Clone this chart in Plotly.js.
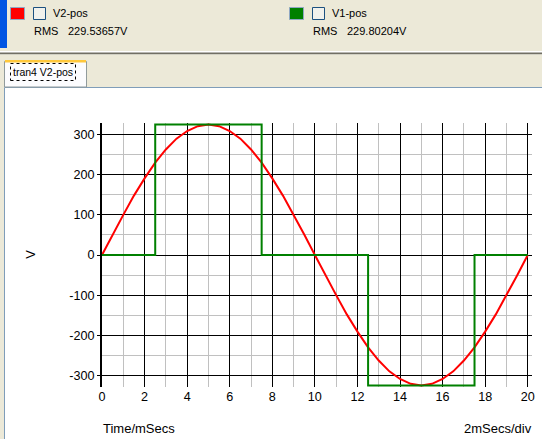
<!DOCTYPE html>
<html>
<head>
<meta charset="utf-8">
<script src="https://cdn.plot.ly/plotly-3.0.1.min.js"></script>
<style>html,body{margin:0;padding:0;background:#fff;}#chart{width:542px;height:439px;}</style>
</head>
<body>
<div id="chart"></div>
<script>
// ---- data ----
const timeMs = [0,0.5,1,1.5,2,2.5,3,3.5,4,4.5,5,5.5,6,6.5,7,7.5,8,8.5,9,9.5,10,10.5,11,11.5,12,12.5,13,13.5,14,14.5,15,15.5,16,16.5,17,17.5,18,18.5,19,19.5,20];
const v2pos = [0,51,100,148,191,230,263,290,309,321,325,321,309,290,263,230,191,148,100,51,0,-51,-100,-148,-191,-230,-263,-290,-309,-321,-325,-321,-309,-290,-263,-230,-191,-148,-100,-51,0];
const v1Time = [0,2.5,2.5,7.5,7.5,12.5,12.5,17.5,17.5,20];
const v1pos  = [0,0,325,325,0,0,-325,-325,0,0];
const seriesNames = ['V2-pos','V1-pos'];
const rmsValues = ['229.53657V','229.80204V'];
const xTickVals = [0,2,4,6,8,10,12,14,16,18,20];
const xTickText = ['0','2','4','6','8','10','12','14','16','18','20'];
const yTickVals = [-300,-200,-100,0,100,200,300];
const yTickText = ['-300','-200','-100','0','100','200','300'];
const tabLabel = 'tran4 V2-pos';
const xLabel = 'Time/mSecs';
const xScaleLabel = '2mSecs/div';
const yLabel = 'V';

// ---- layout helpers (pixel -> paper) ----
const L = 102, R = 532, T = 123, B = 387;
const px = x => (x - L) / (R - L);
const py = y => (B - y) / (B - T);
const FONT = '"Liberation Sans", Arial, sans-serif';

function rect(x0, y0, x1, y1, fill, lineColor, lw, dash) {
  return {type:'rect', xref:'paper', yref:'paper', layer:'above',
    x0:px(x0), x1:px(x1), y0:py(y1), y1:py(y0),
    fillcolor: fill || 'rgba(0,0,0,0)',
    line: lineColor ? {color:lineColor, width:lw||1, dash:dash||'solid'} : {width:0}};
}
function line(x0, y0, x1, y1, color, lw) {
  return {type:'line', xref:'paper', yref:'paper', layer:'above',
    x0:px(x0), x1:px(x1), y0:py(y0), y1:py(y1), line:{color:color, width:lw||1}};
}
function text(x, y, t, size, anchor, angle) {
  return {xref:'paper', yref:'paper', x:px(x), y:py(y), text:t, showarrow:false,
    xanchor: anchor || 'left', yanchor:'middle', textangle: angle || 0,
    font:{family:FONT, size:size||11, color:'#000'}, borderpad:0};
}

const beige = '#ECE9D8';
const shapes = [
  rect(0, 0, 542, 51, beige),
  rect(0, 0, 7, 48, '#0054E3'),
  line(0, 51.5, 542, 51.5, '#FFFFFF', 1),
  rect(0, 52.5, 542, 54.5, '#716F64'),
  rect(0, 54.5, 542, 87, beige),
  rect(0, 87, 4, 439, beige),
  line(4.5, 87.5, 542, 87.5, '#7F9DB9', 1),
  line(4.5, 87.5, 4.5, 439, '#7F9DB9', 1),
  // tab
  rect(4.5, 61.5, 86.5, 87, '#FCFCFE', '#919B9C', 1),
  rect(5, 60, 86, 62.5, '#FFC83C'),
  rect(10.5, 63.5, 75.5, 80.5, null, '#000', 1, 'dot'),
  // legend swatches
  rect(10.5, 7.5, 24.5, 19.5, '#FF0000', '#8FA7C3', 1),
  rect(33.5, 7.5, 45.5, 19.5, '#F1F1EC', '#1C5180', 1),
  rect(289.5, 7.5, 303.5, 19.5, '#008000', '#8FA7C3', 1),
  rect(312.5, 7.5, 324.5, 19.5, '#F1F1EC', '#1C5180', 1)
];

const annotations = [
  text(52, 12.5, seriesNames[0], 11),
  text(33, 31, 'RMS', 11),
  text(67, 31, rmsValues[0], 11),
  text(331, 12.5, seriesNames[1], 11),
  text(312, 31, 'RMS', 11),
  text(346, 31, rmsValues[1], 11),
  text(12, 72, tabLabel, 10.5),
  text(102, 428, xLabel, 13),
  text(533, 428, xScaleLabel, 13, 'right'),
  text(31, 254.7, yLabel, 13, 'center', -90)
];

const traces = [
  {x: timeMs, y: v2pos, name: seriesNames[0], type:'scatter', mode:'lines',
   line:{color:'#FF0000', width:2}},
  {x: v1Time, y: v1pos, name: seriesNames[1], type:'scatter', mode:'lines',
   line:{color:'#008000', width:2}}
];

const layout = {
  width:542, height:439,
  margin:{l:L, r:542-R, t:T, b:439-B, pad:0},
  paper_bgcolor:'#FFFFFF', plot_bgcolor:'#FFFFFF',
  showlegend:false,
  font:{family:FONT, size:12.6, color:'#000'},
  xaxis:{range:[0,20.2], tickmode:'array', tickvals:xTickVals, ticktext:xTickText,
    showgrid:true, gridcolor:'#000', gridwidth:1, zeroline:false, showline:false,
    ticks:'', tickfont:{family:FONT, size:12.6, color:'#000'},
    minor:{tickmode:'linear', tick0:0, dtick:1, showgrid:true, gridcolor:'#C0C0C0', gridwidth:1, ticks:''},
    fixedrange:true},
  yaxis:{range:[-329,329], tickmode:'array', tickvals:yTickVals, ticktext:yTickText,
    showgrid:true, gridcolor:'#000', gridwidth:1, zeroline:false,
    showline:true, linecolor:'#000', linewidth:2,
    ticks:'outside', ticklen:3, tickwidth:1, tickcolor:'#000',
    tickfont:{family:FONT, size:12.6, color:'#000'},
    minor:{tickmode:'linear', tick0:0, dtick:50, showgrid:true, gridcolor:'#C0C0C0', gridwidth:1, ticks:''},
    fixedrange:true},
  shapes: shapes,
  annotations: annotations
};

Plotly.newPlot('chart', traces, layout, {displayModeBar:false, staticPlot:true});
</script>
</body>
</html>
